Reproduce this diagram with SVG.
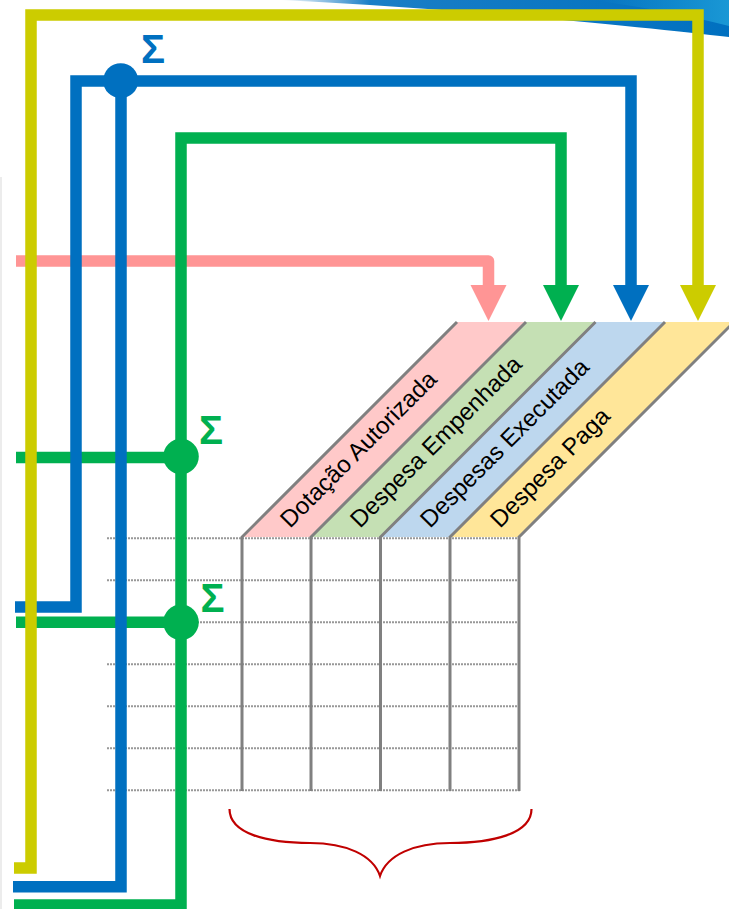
<svg xmlns="http://www.w3.org/2000/svg" width="729" height="909" viewBox="0 0 729 909">
  <style>
    .ln { fill: none; stroke-width: 11.5; stroke-linejoin: miter; stroke-linecap: butt; }
    .pink { stroke: #ff9595; }
    .green { stroke: #00b050; }
    .blue { stroke: #0070c0; }
    .yellow { stroke: #cccc00; }
    .grid { stroke: #989898; stroke-width: 2; stroke-dasharray: 2 1; fill: none; }
    .col { stroke: #808080; stroke-width: 3; fill: none; }
    .lbl { font-family: "Liberation Sans", Arial, sans-serif; font-size: 24px; fill: #000; }
    .sig { font-family: "Liberation Sans", Arial, sans-serif; font-size: 40px; font-weight: bold; }
  </style>
  <defs>
    <linearGradient id="sw" x1="280" y1="0" x2="729" y2="0" gradientUnits="userSpaceOnUse">
      <stop offset="0" stop-color="#0070c0" stop-opacity="0"/>
      <stop offset="0.2" stop-color="#0070c0" stop-opacity="0.9"/>
      <stop offset="1" stop-color="#0070c0"/>
    </linearGradient>
    <linearGradient id="sw2" x1="600" y1="0" x2="729" y2="0" gradientUnits="userSpaceOnUse">
      <stop offset="0" stop-color="#1a98d5" stop-opacity="0"/>
      <stop offset="1" stop-color="#1a98d5"/>
    </linearGradient>
  </defs>
  <rect width="729" height="909" fill="#ffffff"/>
  <g id="background">
    <path d="M 280 0 L 729 0 L 729 37 C 650 28 470 9 280 0 Z" fill="url(#sw)"/>
    <path d="M 590 0 L 729 0 L 729 26 C 690 16 640 6 590 0 Z" fill="url(#sw2)"/>
    <line x1="1" y1="177" x2="1" y2="909" stroke="#ececec" stroke-width="2"/>
  </g>

  <g id="table">
    <g id="header-dotacao">
      <polygon points="242,537 311,537 526,322 457,322" fill="#ffc9c9"/>
    </g>
    <g id="header-empenhada">
      <polygon points="311,537 380.5,537 595.5,322 526,322" fill="#c5e0b4"/>
    </g>
    <g id="header-executada">
      <polygon points="380.5,537 450,537 665,322 595.5,322" fill="#bdd7ee"/>
    </g>
    <g id="header-paga">
      <polygon points="450,537 519,537 734,322 665,322" fill="#ffe699"/>
    </g>
    <g id="grid-rows">
      <line class="grid" x1="107" y1="538.3" x2="521" y2="538.3"/>
      <line class="grid" x1="107" y1="580.3" x2="521" y2="580.3"/>
      <line class="grid" x1="107" y1="622.3" x2="521" y2="622.3"/>
      <line class="grid" x1="107" y1="664.3" x2="521" y2="664.3"/>
      <line class="grid" x1="107" y1="706.3" x2="521" y2="706.3"/>
      <line class="grid" x1="107" y1="748.3" x2="521" y2="748.3"/>
      <line class="grid" x1="107" y1="790.3" x2="521" y2="790.3"/>
    </g>
    <g id="grid-cols">
      <polyline class="col" points="242,791 242,537 457,322"/>
      <polyline class="col" points="311,791 311,537 526,322"/>
      <polyline class="col" points="380.5,791 380.5,537 595.5,322"/>
      <polyline class="col" points="450,791 450,537 665,322"/>
      <polyline class="col" points="519,791 519,537 734,322"/>
    </g>
    <g id="labels">
      <text class="lbl" transform="translate(290,529) rotate(-45)">Dotação Autorizada</text>
      <text class="lbl" transform="translate(360,529) rotate(-45)">Despesa Empenhada</text>
      <text class="lbl" transform="translate(430,529) rotate(-45)">Despesas Executada</text>
      <text class="lbl" transform="translate(500,529) rotate(-45)">Despesa Paga</text>
    </g>
  </g>

  <g id="brace">
    <path d="M 229.5 809 C 229.5 834 268 843 310 843 C 346 843 373 855 380 876 C 387 855 414 843 450 843 C 492 843 531.5 834 531.5 809" fill="none" stroke="#c00000" stroke-width="2.2"/>
  </g>

  <g id="connectors">
    <g id="flow-dotacao">
      <path class="ln pink" d="M 16 261 L 488.5 261 L 488.5 286" style="stroke-linejoin:round"/>
      <polygon points="470.5,285 506.5,285 488.5,321" fill="#ff9595"/>
    </g>
    <g id="flow-empenhada">
      <path class="ln green" d="M 181 905 L 14 905"/>
      <path class="ln green" d="M 181 910 L 181 138 L 561 138 L 561 286"/>
      <polygon points="543,285 579,285 561,321" fill="#00b050"/>
      <path class="ln green" d="M 16 457.5 L 181 457.5"/>
      <path class="ln green" d="M 16 622.3 L 181 622.3"/>
    </g>
    <g id="flow-executada">
      <path class="ln blue" d="M 15 607 L 76 607 L 76 81 L 631 81 L 631 286"/>
      <polygon points="613,285 649,285 631,321" fill="#0070c0"/>
      <path class="ln blue" d="M 121 81 L 121 886.7 L 13 886.7"/>
    </g>
    <g id="flow-paga">
      <path class="ln yellow" d="M 14 868 L 31 868 L 31 15 L 698 15 L 698 286"/>
      <polygon points="680,285 716,285 698,321" fill="#cccc00"/>
    </g>
  </g>

  <g id="sum-executada">
    <circle cx="120.7" cy="80.7" r="17.5" fill="#0070c0"/>
    <text class="sig" x="141" y="62.5" fill="#0070c0">Σ</text>
  </g>
  <g id="sum-empenhada-1">
    <circle cx="181" cy="456.5" r="17.8" fill="#00b050"/>
    <text class="sig" x="199" y="444" fill="#00b050">Σ</text>
  </g>
  <g id="sum-empenhada-2">
    <circle cx="181" cy="622.3" r="17.8" fill="#00b050"/>
    <text class="sig" x="200.5" y="612" fill="#00b050">Σ</text>
  </g>
</svg>
